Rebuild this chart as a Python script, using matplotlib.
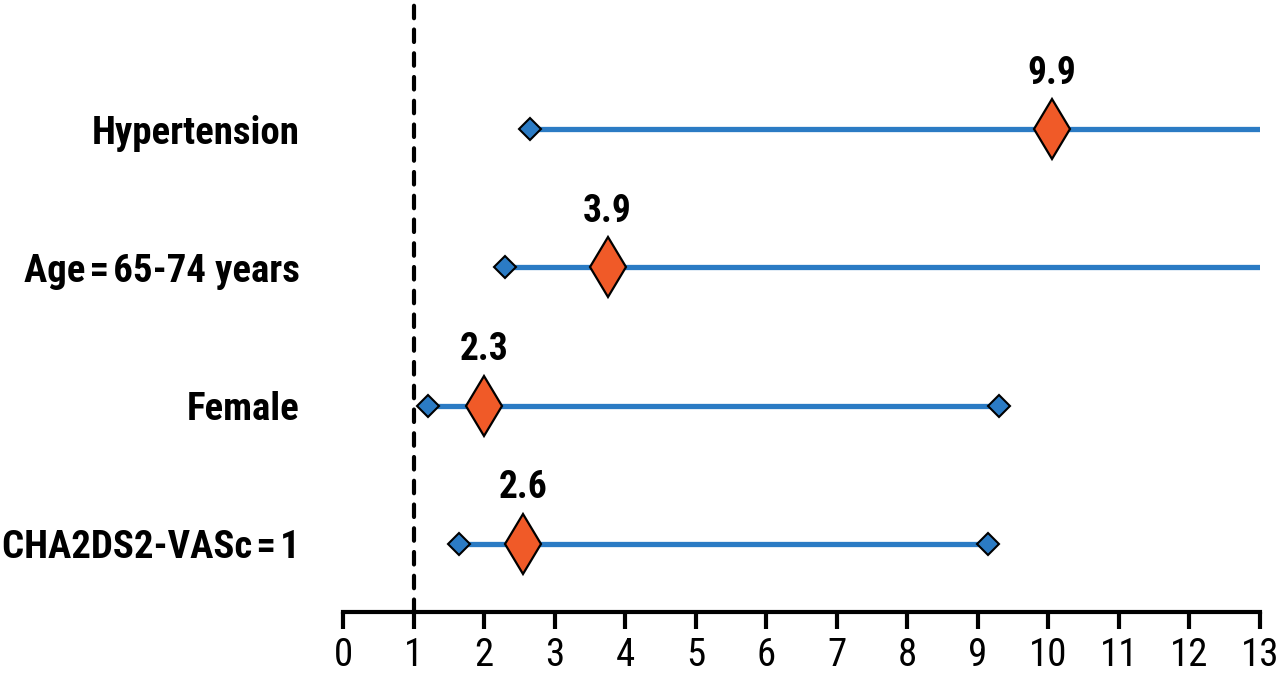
import matplotlib
matplotlib.use("Agg")
import matplotlib.pyplot as plt

plt.rcParams['font.family'] = ['Roboto Condensed', 'DejaVu Sans']

# forest plot data
factors = ["Hypertension", "Age\u200a=\u200a65-74 years", "Female", "CHA2DS2-VASc\u200a=\u200a1"]
estimate = [10.05, 3.75, 2.0, 2.55]
ci_low = [2.65, 2.3, 1.2, 1.65]
ci_high = [13.0, 13.0, 9.3, 9.15]   # first two run past the axis end
value_labels = ["9.9", "3.9", "2.3", "2.6"]
xticks = list(range(0, 14))

BLUE = "#2b7bc4"
ORANGE = "#f05a28"

fig = plt.figure(figsize=(12.8, 6.74), dpi=100)
ax = fig.add_axes([343 / 1280, 1 - 612 / 674, (1260 - 343) / 1280, 612 / 674])

rows = [4, 3, 2, 1]
for y, est, lo, hi, lab in zip(rows, estimate, ci_low, ci_high, value_labels):
    ax.plot([lo, hi], [y, y], color=BLUE, lw=3.8, solid_capstyle="butt", zorder=2)
    ax.plot(lo, y, marker="D", ms=11.5, mfc=BLUE, mec="black", mew=1.5, zorder=3)
    if hi < 13:
        ax.plot(hi, y, marker="D", ms=11.5, mfc=BLUE, mec="black", mew=1.5, zorder=3)
    ax.plot(est, y, marker="d", ms=31, mfc=ORANGE, mec="black", mew=1.6, zorder=4)
    ax.annotate(lab, (est, y), xytext=(0, 27), textcoords="offset points",
                ha="center", va="bottom", fontsize=27, fontweight="bold")

ax.axvline(1, color="black", lw=3, dashes=(3, 2.7), dash_capstyle="round", zorder=1)

ax.set_xlim(0, 13)
ax.set_ylim(0.508, 4.933)
ax.set_xticks(xticks)
ax.set_xticklabels([str(t) for t in xticks], fontsize=28)
ax.set_yticks(rows)
ax.set_yticklabels(factors, fontsize=28, fontweight="bold")
ax.tick_params(axis="y", length=0, pad=31)
ax.tick_params(axis="x", length=12, width=3, pad=6)

for side in ["top", "right", "left"]:
    ax.spines[side].set_visible(False)
ax.spines["bottom"].set_linewidth(3)

fig.savefig("out.png", dpi=100)
